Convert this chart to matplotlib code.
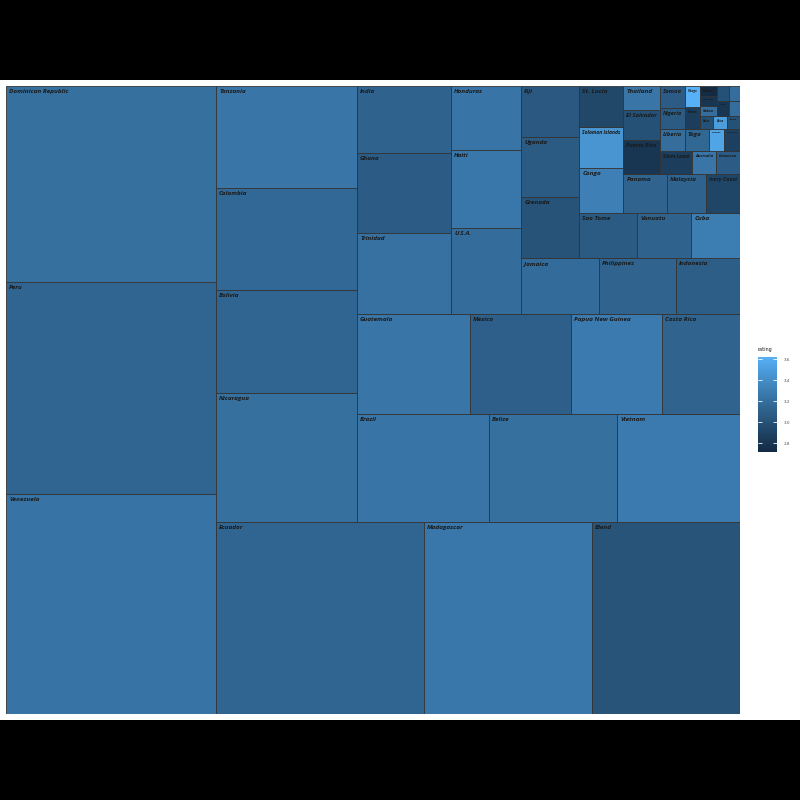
import numpy as np
import matplotlib
matplotlib.use('Agg')
from matplotlib import pyplot as plt
from matplotlib.colors import ListedColormap, Normalize, to_rgb
from matplotlib.patches import Rectangle
from matplotlib.cm import ScalarMappable

# treemap: origem do cacau, area = numero de barras, cor = nota media
origens = ['Venezuela', 'Peru', 'Dominican Republic', 'Ecuador', 'Madagascar', 'Blend',
           'Nicaragua', 'Bolivia', 'Colombia', 'Tanzania', 'Brazil', 'Belize', 'Vietnam',
           'Guatemala', 'Mexico', 'Papua New Guinea', 'Costa Rica', 'Trinidad', 'Ghana',
           'India', 'U.S.A.', 'Haiti', 'Honduras', 'Jamaica', 'Philippines', 'Indonesia',
           'Grenada', 'Uganda', 'Fiji', 'Sao Tome', 'Vanuatu', 'Cuba', 'Congo',
           'Solomon Islands', 'St. Lucia', 'Panama', 'Malaysia', 'Ivory Coast',
           'Puerto Rico', 'El Salvador', 'Thailand', 'Sierra Leone', 'Australia',
           'Cameroon', 'Liberia', 'Nigeria', 'Samoa', 'Togo', 'Suriname', 'Sri Lanka',
           'Taiwan', 'Tobago', 'Benin', 'China', 'Burma', 'Gabon', 'Martinique',
           'Principe', 'Tahiti', 'Dominica', 'Carribean', 'West Africa']
qtde = [213.9, 206.1, 190.6, 184.9, 149.3, 131.6,
        84.2, 67.2, 66.6, 66.5, 66.0, 64.0, 61.5,
        52.3, 46.8, 42.1, 36.1, 35.3, 34.8,
        29.2, 27.9, 25.3, 20.7, 20.1, 20.0, 16.6,
        16.3, 16.2, 13.7, 12.1, 11.3, 10.2, 9.2,
        8.4, 8.3, 7.9, 7.0, 6.1,
        5.7, 5.0, 4.0, 3.4, 2.5,
        2.5, 2.5, 2.5, 2.5, 2.45, 1.6, 1.6,
        1.58, 1.55, 0.8, 0.8, 0.8, 0.8, 0.8,
        0.8, 0.8, 0.8, 0.8, 0.75]
nota = [3.23, 3.14, 3.21, 3.14, 3.26, 3.02,
        3.21, 3.14, 3.16, 3.25, 3.24, 3.21, 3.28,
        3.25, 3.10, 3.28, 3.13, 3.22, 3.08,
        3.12, 3.19, 3.26, 3.24, 3.18, 3.13, 3.09,
        3.01, 3.06, 3.05, 3.06, 3.12, 3.30, 3.32,
        3.45, 2.93, 3.13, 3.12, 2.92,
        2.80, 3.00, 3.25, 2.86, 3.25,
        3.08, 3.20, 3.06, 3.08, 3.15, 3.55, 2.88,
        2.86, 3.625, 3.00, 3.50, 3.00, 3.20, 2.80,
        2.72, 2.80, 3.20, 3.00, 3.20]

# escala de cor do ggplot (#132B43 -> #56B1F7) interpolada em Lab
M = np.array([[0.4124564, 0.3575761, 0.1804375],
              [0.2126729, 0.7151522, 0.0721750],
              [0.0193339, 0.1191920, 0.9503041]])
BRANCO = np.array([0.95047, 1.0, 1.08883])

def para_lab(cor):
    c = np.array(to_rgb(cor))
    c = np.where(c <= 0.04045, c / 12.92, ((c + 0.055) / 1.055) ** 2.4)
    xyz = M @ c / BRANCO
    f = np.where(xyz > 216 / 24389, np.cbrt(xyz), (24389 / 27 * xyz + 16) / 116)
    return np.array([116 * f[1] - 16, 500 * (f[0] - f[1]), 200 * (f[1] - f[2])])

def para_rgb(lab):
    fy = (lab[0] + 16) / 116
    f = np.array([fy + lab[1] / 500, fy, fy - lab[2] / 200])
    xyz = np.where(f ** 3 > 216 / 24389, f ** 3, (116 * f - 16) / (24389 / 27)) * BRANCO
    c = np.linalg.solve(M, xyz)
    c = np.where(c <= 0.0031308, 12.92 * c, 1.055 * np.abs(c) ** (1 / 2.4) - 0.055)
    return np.clip(c, 0, 1)

lab0, lab1 = para_lab('#132B43'), para_lab('#56B1F7')
cmap = ListedColormap([para_rgb(lab0 + t * (lab1 - lab0)) for t in np.linspace(0, 1, 256)])
norm = Normalize(min(nota), max(nota))

# squarified, calculado no quadrado unitario (como o treemapify)
def pior(linha, lado):
    s = sum(linha)
    return max(max(lado * lado * r / (s * s), s * s / (lado * lado * r)) for r in linha)

def squarify(vals, x, y, w, h):
    rects = []
    vals = list(vals)
    while vals:
        if len(vals) == 1:
            rects.append((x, y, w, h))
            break
        lado = min(w, h)
        linha = [vals[0]]
        i = 1
        while i < len(vals) and pior(linha + [vals[i]], lado) <= pior(linha, lado):
            linha.append(vals[i])
            i += 1
        s = sum(linha)
        if w < h:
            hh = s / w
            xx = x
            for r in linha:
                rects.append((xx, y, r / hh, hh))
                xx += r / hh
            y += hh
            h -= hh
        else:
            ww = s / h
            yy = y
            for r in linha:
                rects.append((x, yy, ww, r / ww))
                yy += r / ww
            x += ww
            w -= ww
        vals = vals[i:]
    return rects

ordem = np.argsort(-np.array(qtde), kind='mergesort')
total = sum(qtde)
rects = squarify([qtde[i] / total for i in ordem], 0, 0, 1, 1)

fig = plt.figure(figsize=(8, 8), dpi=100, facecolor='black')
fig.add_artist(Rectangle((0, 80 / 800), 1, 640 / 800, transform=fig.transFigure,
                         facecolor='white', edgecolor='none', zorder=-5))

PW, PH = 734, 628
ax = fig.add_axes([6 / 800, 86 / 800, PW / 800, PH / 800])
ax.set_xlim(0, 1)
ax.set_ylim(0, 1)
ax.axis('off')

textos = []
for (x, y, w, h), i in zip(rects, ordem):
    ax.add_patch(Rectangle((x, y), w, h, facecolor=cmap(norm(nota[i])),
                           edgecolor='#333333', linewidth=0.6))
    t = ax.text(x + 3 / PW, y + h - 3 / PH, origens[i], ha='left', va='top',
                fontsize=4.6, fontstyle='italic', fontweight='bold',
                family=['Open Sans', 'DejaVu Sans'], color='#1a1a1a')
    textos.append((t, w * PW - 6, h * PH - 6))

# encolhe os rotulos que nao cabem no retangulo
fig.canvas.draw()
rend = fig.canvas.get_renderer()
for t, lw, lh in textos:
    bb = t.get_window_extent(rend)
    esc = min(1, lw / bb.width, lh / bb.height)
    tam = t.get_fontsize() * esc
    if tam < 1.4:
        t.set_visible(False)
    else:
        t.set_fontsize(tam)

# legenda
cax = fig.add_axes([758 / 800, (800 - 451.7) / 800, 19 / 800, 95 / 800])
cb = fig.colorbar(ScalarMappable(norm=norm, cmap=cmap), cax=cax,
                  ticks=[2.8, 3.0, 3.2, 3.4, 3.6])
cb.outline.set_visible(False)
cax.set_yticklabels(['2.8', '3.0', '3.2', '3.4', '3.6'])
cax.tick_params(direction='in', color='white', length=3, width=0.6, left=True,
                right=True, labelsize=3, labelcolor='#4d4d4d', pad=5)
fig.text(758 / 800, 1 - 349 / 800, 'rating', fontsize=3.5, va='center', color='#1a1a1a')

plt.savefig('out.png', dpi=100, facecolor='black')
